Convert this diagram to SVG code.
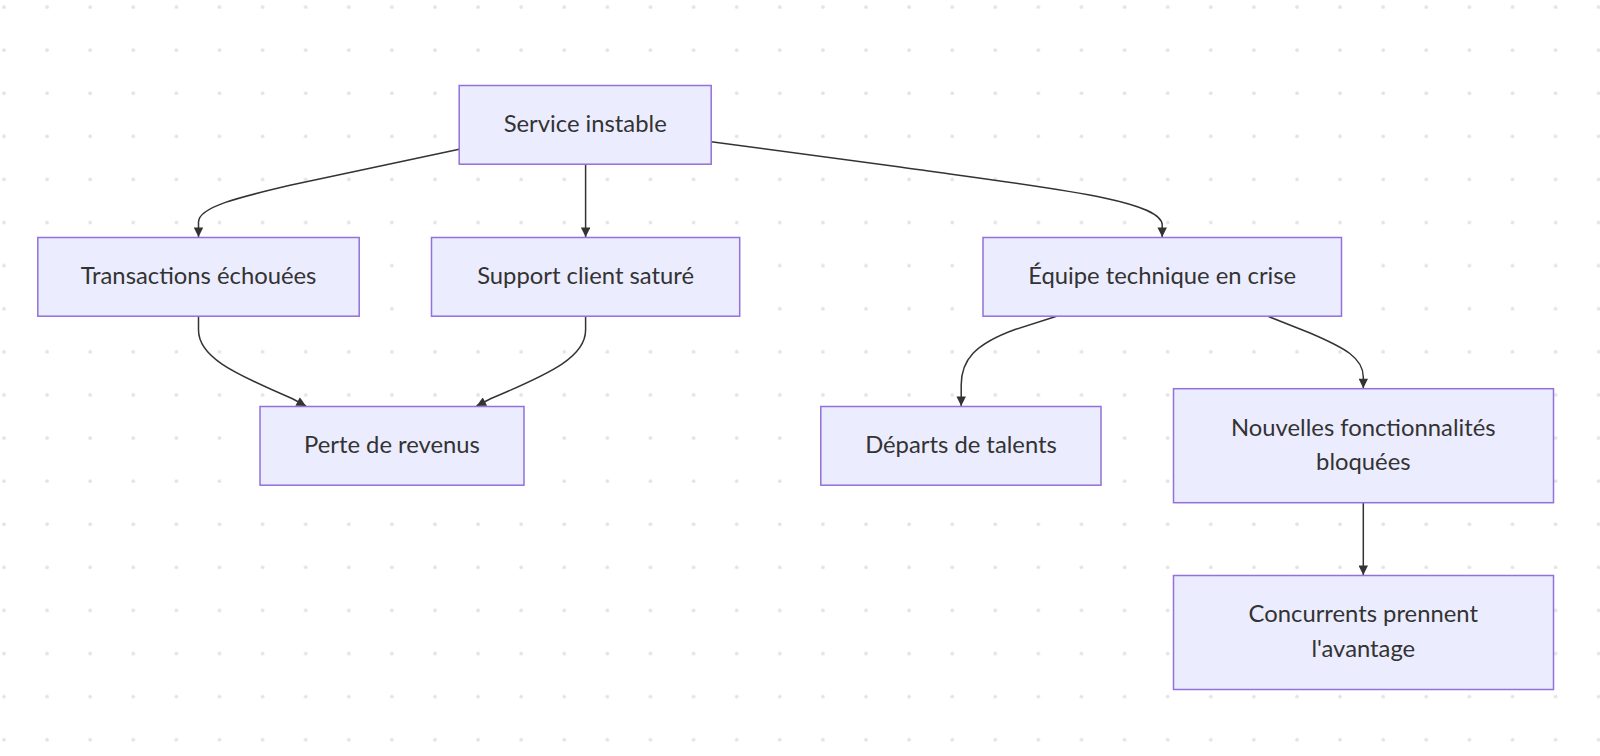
<svg xmlns="http://www.w3.org/2000/svg" width="1600" height="756" viewBox="0 0 1600 756">
<style>
.node rect{fill:#ECECFF;stroke:#9370DB;stroke-width:1.5}
.node text{font-family:Lato,"Liberation Sans",sans-serif;font-size:23.8px;fill:#333;text-anchor:middle;dominant-baseline:central}
.edge{fill:none;stroke:#333;stroke-width:1.5;marker-end:url(#arrow)}
</style>
<defs>
<pattern id="dots" x="0" y="0" width="43.1" height="43.1" patternUnits="userSpaceOnUse">
<circle cx="4" cy="7" r="1.8" fill="#e3e3e3"/>
</pattern>
<marker id="arrow" viewBox="0 0 10 10" refX="10" refY="5" markerWidth="10.5" markerHeight="9.5" markerUnits="userSpaceOnUse" orient="auto">
<path d="M0,0 L10,5 L0,10 z" fill="#333"/>
</marker>
</defs>
<rect width="1600" height="756" fill="#fff"/>
<rect width="1600" height="756" fill="url(#dots)"/>
<g id="connectors">
<path class="edge" d="M459.2,149.3 L290,185.3 C240,197 198.5,207 198.5,222 L198.5,237"/>
<path class="edge" d="M585.6,164.3 L585.6,237"/>
<path class="edge" d="M711.2,141.8 L900,167 C1050,188 1162.2,200 1162.2,225 L1162.2,237"/>
<path class="edge" d="M198.5,316.3 L198.5,330 C198.5,356 230,372 292,398.5 L306,406"/>
<path class="edge" d="M585.6,316.3 L585.6,330 C585.6,356 554,372 491,398.5 L476.5,406"/>
<path class="edge" d="M1056.6,316.3 L1015,329.5 C975,344 961.2,360 961.2,385 L961.2,406"/>
<path class="edge" d="M1268,316.3 L1310,333 C1345,348 1363.3,358 1363.3,377 L1363.3,388.2"/>
<path class="edge" d="M1363.3,502.7 L1363.3,575"/>
</g>
<g id="A" class="node"><rect x="459.2" y="85.5" width="252" height="78.7"/><text x="585.2" y="123">Service instable</text></g>
<g id="B" class="node"><rect x="37.8" y="237.5" width="321.4" height="78.7"/><text x="198.5" y="275">Transactions échouées</text></g>
<g id="C" class="node"><rect x="431.5" y="237.5" width="308.2" height="78.7"/><text x="585.6" y="275">Support client saturé</text></g>
<g id="D" class="node"><rect x="983" y="237.5" width="358.5" height="78.7"/><text x="1162.2" y="275">Équipe technique en crise</text></g>
<g id="E" class="node"><rect x="260" y="406.5" width="264" height="78.7"/><text x="392" y="444">Perte de revenus</text></g>
<g id="F" class="node"><rect x="820.8" y="406.5" width="280.2" height="78.7"/><text x="961" y="444">Départs de talents</text></g>
<g id="G" class="node"><rect x="1173.5" y="388.7" width="380" height="114"/><text x="1363.3" y="426.6">Nouvelles fonctionnalités</text><text x="1363.3" y="461.3">bloquées</text></g>
<g id="H" class="node"><rect x="1173.5" y="575.5" width="380" height="114"/><text x="1363.3" y="613.3">Concurrents prennent</text><text x="1363.3" y="648">l'avantage</text></g>
</svg>
